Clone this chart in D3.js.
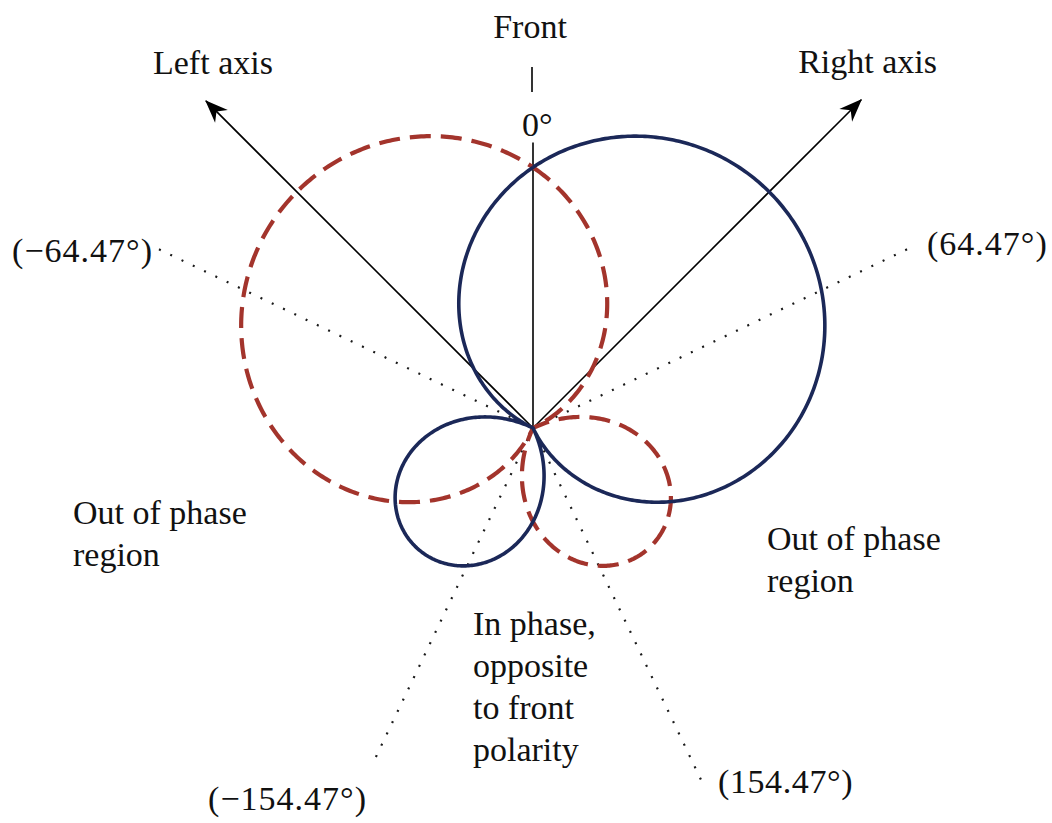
<!DOCTYPE html>
<html>
<head>
<meta charset="utf-8">
<script src="https://cdn.jsdelivr.net/npm/d3@7"></script>
<style>
  html, body { margin: 0; padding: 0; background: #fff; }
  svg { display: block; }
  text { font-family: "Liberation Serif", "Times New Roman", serif; fill: #111; }
</style>
</head>
<body>
<svg id="chart" width="1052" height="823"></svg>
<script>
// Two crossed hypercardioid microphones (Blumlein-style pair)
const micNames = ["Right axis", "Left axis"];
const micAxes = [45, -45];                   // on-axis direction, degrees from front
const micColors = ["#1b2858", "#a3342c"];
const micDashes = [null, "21,10"];
const nullAngles = [64.47, -64.47, 154.47, -154.47];   // null directions, degrees
const nullLabels = ["(64.47°)", "(−64.47°)", "(154.47°)", "(−154.47°)"];
const nullLineLengths = [1.255, 1.245, 1.17, 1.12];      // in units of on-axis sensitivity
const axisArrowLengths = [1.39, 1.385];
const frontLineLength = 0.855;
const regionLabels = [
  ["Out of phase", "region"],
  ["Out of phase", "region"],
  ["In phase,", "opposite", "to front", "polarity"]
];

const W = 1052, H = 823;
const cx = 533, cy = 428;
const svg = d3.select("#chart");
svg.append("rect").attr("width", W).attr("height", H).attr("fill", "#fff");

const r = d3.scaleLinear().domain([0, 1]).range([0, 334]);
const rad = d => d * Math.PI / 180;

const g = svg.append("g").attr("transform", `translate(${cx},${cy})`);

// null offset from the mic axis: 64.47 + 45 = 109.47 deg
const nullOffset = nullAngles[0] + micAxes[0];
const cn = Math.cos(rad(nullOffset));
// first-order pattern with a null at nullOffset, normalised to 1 on axis
const pattern = phi => Math.abs((Math.cos(phi) - cn) / (1 - cn));

const thetas = d3.range(0, 360.5, 0.5).map(rad);

// arrowhead marker
const defs = svg.append("defs");
defs.append("marker")
  .attr("id", "arrow")
  .attr("viewBox", "-24 -10 26 20")
  .attr("refX", 0).attr("refY", 0)
  .attr("markerWidth", 26).attr("markerHeight", 20)
  .attr("markerUnits", "userSpaceOnUse")
  .attr("orient", "auto")
  .append("path")
  .attr("d", "M1,0 L-22,-9 L-15,0 L-22,9 Z")
  .attr("fill", "#000");

// dotted null lines
const pt = (ang, len) => [r(len) * Math.sin(rad(ang)), -r(len) * Math.cos(rad(ang))];
nullAngles.forEach((a, i) => {
  const [x, y] = pt(a, nullLineLengths[i]);
  g.append("line")
    .attr("x1", 0).attr("y1", 0).attr("x2", x).attr("y2", y)
    .attr("stroke", "#1a1a1a").attr("stroke-width", 2.2)
    .attr("stroke-dasharray", "2,10.5");
});

// front reference line
g.append("line")
  .attr("x1", 0).attr("y1", 0)
  .attr("x2", 0).attr("y2", -r(frontLineLength))
  .attr("stroke", "#000").attr("stroke-width", 1.6);

// mic axis arrows
micAxes.forEach((a, i) => {
  const [x, y] = pt(a, axisArrowLengths[i]);
  g.append("line")
    .attr("x1", 0).attr("y1", 0).attr("x2", x).attr("y2", y)
    .attr("stroke", "#000").attr("stroke-width", 1.6)
    .attr("marker-end", "url(#arrow)");
});

// polar patterns (dashed left mic drawn first, solid right mic on top)
const radial = d3.lineRadial().curve(d3.curveLinear);
[1, 0].forEach(i => {
  const axis = rad(micAxes[i]);
  const pts = thetas.map(t => [t, r(pattern(t - axis))]);
  g.append("path")
    .attr("d", radial(pts))
    .attr("fill", "none")
    .attr("stroke", micColors[i])
    .attr("stroke-width", i === 0 ? 3.6 : 4.2)
    .attr("stroke-dasharray", micDashes[i])
    .attr("stroke-linejoin", "round");
});

// text
const fs = 34;
const T = (x, y, s, anchor, spacing) => svg.append("text")
  .attr("x", x).attr("y", y)
  .attr("text-anchor", anchor || "start")
  .attr("font-size", fs)
  .attr("letter-spacing", spacing || 0)
  .text(s);

T(530, 38, "Front", "middle");
svg.append("line").attr("x1", 532).attr("x2", 532).attr("y1", 67).attr("y2", 92)
  .attr("stroke", "#000").attr("stroke-width", 1.6);
T(522, 136, "0°", "start");
T(937, 73, micNames[0], "end");
T(153, 74, micNames[1], "start");

T(927, 255, nullLabels[0], "start", 1);
T(153, 262, nullLabels[1], "end", 1);
T(718, 793, nullLabels[2], "start", 0.6);
T(367, 810, nullLabels[3], "end", 1);

const block = (x, y0, lines, lh) => lines.forEach((s, k) => T(x, y0 + k * lh, s, "start"));
block(73, 524, regionLabels[0], 42);
block(767, 550, regionLabels[1], 42);
block(473, 635, regionLabels[2], 42);
</script>
</body>
</html>
